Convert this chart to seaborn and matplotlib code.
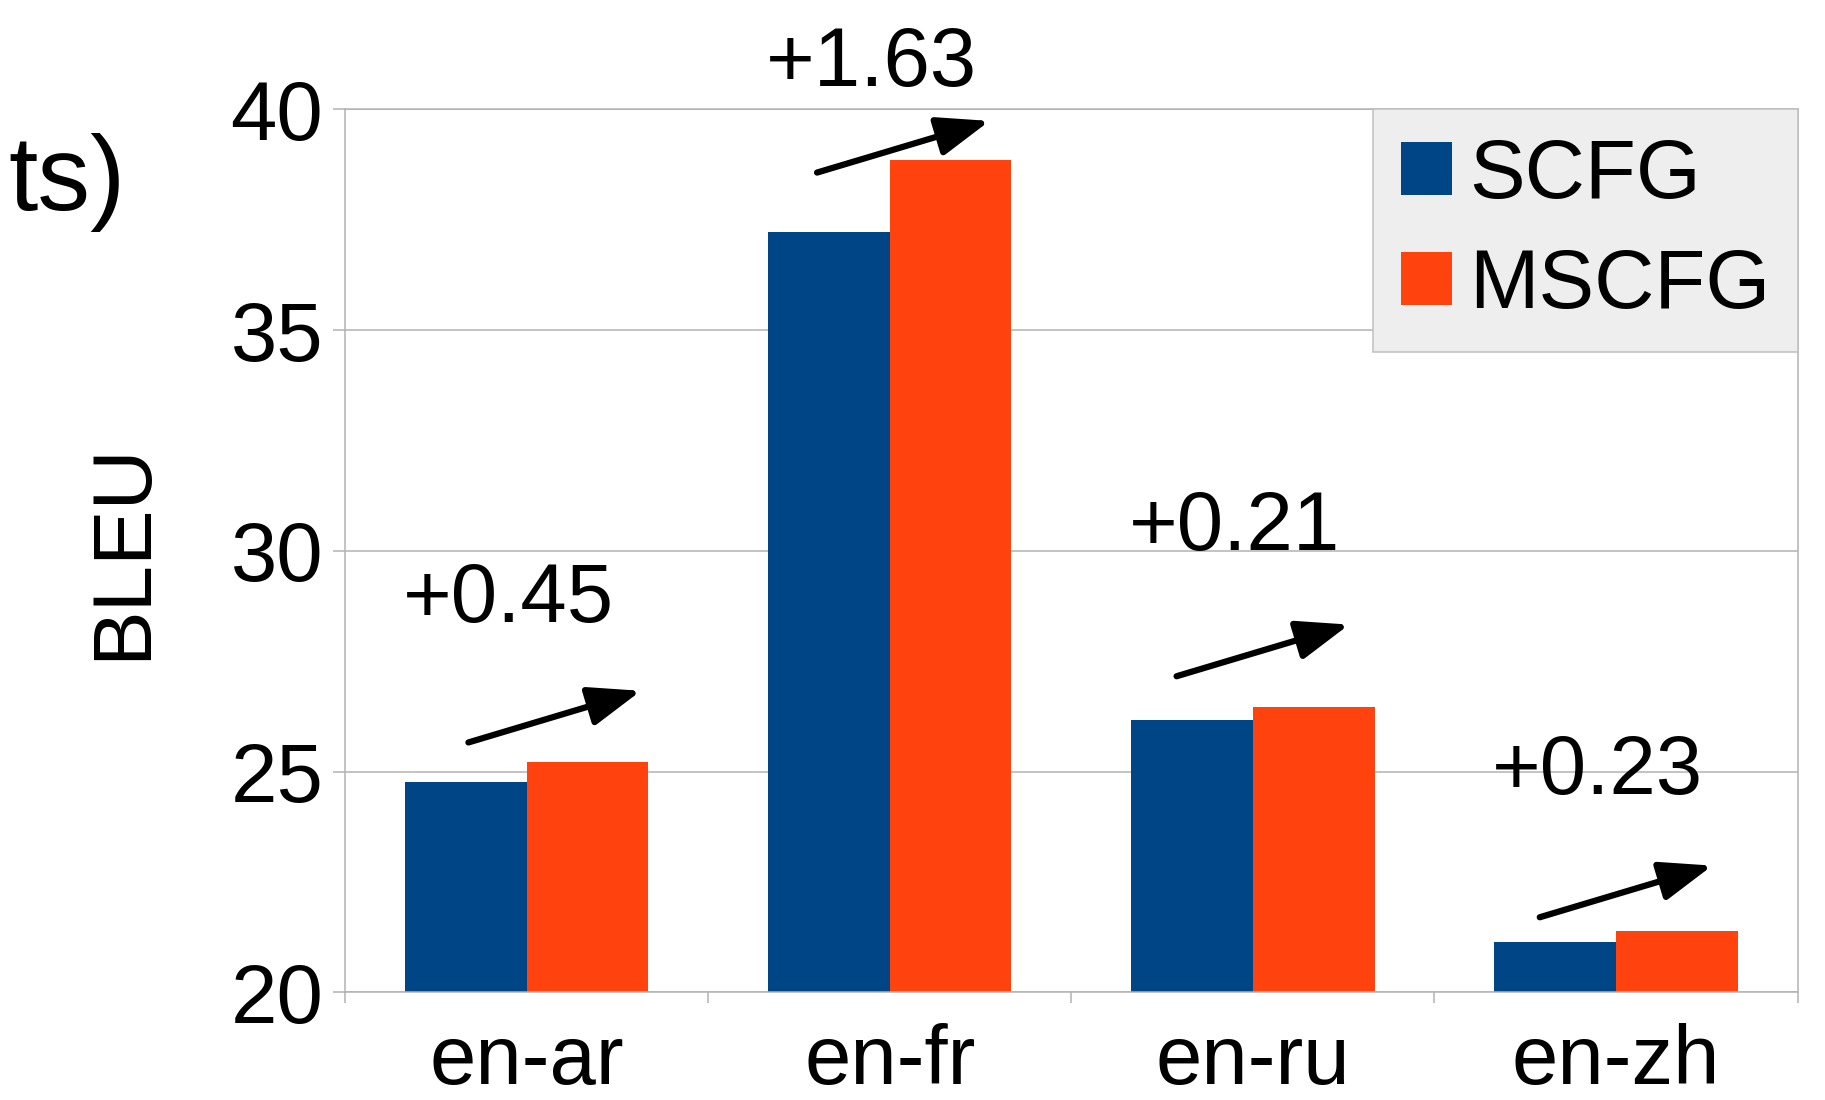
import pandas as pd
import matplotlib
matplotlib.use("Agg")
import matplotlib.pyplot as plt
import seaborn as sns

# data
pairs = ['en-ar', 'en-fr', 'en-ru', 'en-zh']
systems = ['SCFG', 'MSCFG']
scfg_bleu = [24.77, 37.22, 26.17, 21.15]
mscfg_bleu = [25.22, 38.85, 26.47, 21.38]
gain_labels = ['+0.45', '+1.63', '+0.21', '+0.23']

# where the gain labels / arrows sit (data units)
label_y = [28.40, 40.53, 30.01, 24.49]
arrow_x0 = [-0.16, -0.20, -0.21, -0.21]
arrow_y0 = [25.66, 38.57, 27.16, 21.70]
arrow_dx, arrow_dy = 0.475, 1.17

colors = ['#004586', '#ff420e']
grey = '#b3b3b3'

df = pd.DataFrame({
    'pair': pairs * 2,
    'bleu': scfg_bleu + mscfg_bleu,
    'system': [systems[0]] * 4 + [systems[1]] * 4,
})

sns.set_style('white')
plt.rcParams['font.family'] = ['Liberation Sans', 'DejaVu Sans']
plt.rcParams['text.color'] = 'black'
plt.rcParams['axes.labelcolor'] = 'black'
plt.rcParams['xtick.labelcolor'] = 'black'
plt.rcParams['ytick.labelcolor'] = 'black'

fig = plt.figure(figsize=(18.25, 11), dpi=100)
ax = fig.add_axes([0.189, 0.0979, 0.796, 0.8026])

sns.barplot(data=df, x='pair', y='bleu', hue='system', palette=colors,
            width=0.67, saturation=1, gap=0, ax=ax, errorbar=None,
            linewidth=0)

ax.set_ylim(20, 40)
ax.set_xlim(-0.5, 3.5)
ax.set_yticks([20, 25, 30, 35, 40])
ax.yaxis.grid(True, color=grey, lw=1.1)
ax.set_axisbelow(True)

for s in ax.spines.values():
    s.set_visible(True)
    s.set_color(grey)
    s.set_linewidth(1.1)

ax.tick_params(axis='y', length=8.6, width=1.1, color=grey, pad=7,
               labelsize=60, left=True, labelcolor='black')
ax.tick_params(axis='x', which='major', length=0, pad=22, labelsize=60,
               labelcolor='black')
ax.set_xticks([-0.5, 0.5, 1.5, 2.5, 3.5], minor=True)
ax.tick_params(axis='x', which='minor', length=8, width=1.1, color=grey,
               bottom=True)

ax.set_xlabel('')
ax.set_ylabel('BLEU', fontsize=60, labelpad=49, color='black')

for i in range(len(pairs)):
    ax.text(i - 0.05, label_y[i], gain_labels[i], fontsize=60,
            ha='center', va='baseline', color='black')
    x0 = i + arrow_x0[i]
    ax.annotate('', xy=(x0 + arrow_dx, arrow_y0[i] + arrow_dy),
                xytext=(x0, arrow_y0[i]),
                arrowprops=dict(arrowstyle='-|>,head_length=3.2,head_width=1.2',
                                mutation_scale=10, lw=4.5, color='black',
                                shrinkA=0, shrinkB=0),
                annotation_clip=False)

leg = ax.legend(loc='upper right', bbox_to_anchor=(1, 1), borderaxespad=0,
                fontsize=60, frameon=True, fancybox=False,
                facecolor='#eeeeee', edgecolor='#c0c0c0', framealpha=1,
                handlelength=0.62, handleheight=0.61, handletextpad=0.2,
                labelspacing=0.38, borderpad=0.33)
leg.get_frame().set_linewidth(1.1)
leg.set_zorder(5)
for t in leg.get_texts():
    t.set_color('black')

# cut-off text left over at the top left
fig.text(8 / 1825, 1 - 210 / 1100, 'ts)', fontsize=76, ha='left',
         va='baseline', color='black')

fig.savefig('out.png', dpi=100)
